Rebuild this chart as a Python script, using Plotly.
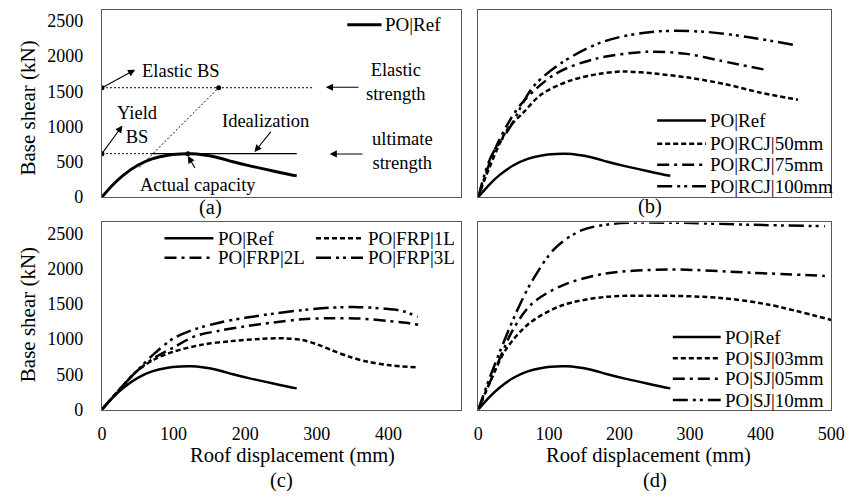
import plotly.graph_objects as go

# the page body has an 8px margin on every side, so the figure is made 16px smaller
# than the window and drawn 8px in from its edges
PAGE_W, PAGE_H, OFF = 861, 499, 8
W, H = PAGE_W - 2 * OFF, PAGE_H - 2 * OFF
FONT = "Liberation Serif, Times New Roman, serif"

# ---------------- data ----------------
ref_name = "PO|Ref"
ref_disp = [0, 15, 30, 50, 70, 90, 110, 125, 140, 160, 183, 205, 229, 250, 272]
ref_shear = [0, 170, 310, 450, 540, 590, 610, 612, 600, 565, 500, 445, 392, 345, 300]

# panel (a) idealization
elastic_bs = 1550
yield_bs = 615
elastic_line_end = 296
diag_disp = [52, 163]
diag_shear = [420, 1550]
yield_dotted_disp = [0, 70]
yield_solid_disp = [70, 272]
key_disp = [0, 163, 0, 120]
key_shear = [1550, 1550, 615, 615]

# panel (b) RC jacketing
rcj_names = ["PO|RCJ|50mm", "PO|RCJ|75mm", "PO|RCJ|100mm"]
rcj50_disp = [0, 15, 40, 65, 90, 130, 170, 205, 250, 300, 350, 400, 453]
rcj50_shear = [0, 400, 940, 1210, 1460, 1650, 1745, 1780, 1750, 1690, 1600, 1480, 1380]
rcj75_disp = [0, 25, 60, 110, 166, 240, 295, 342, 404]
rcj75_shear = [0, 710, 1310, 1750, 1960, 2060, 2030, 1935, 1810]
rcj100_disp = [0, 18, 45, 78, 119, 179, 249, 318, 388, 450]
rcj100_shear = [0, 570, 990, 1565, 1910, 2210, 2345, 2345, 2260, 2150]

# panel (c) FRP
frp_names = ["PO|FRP|1L", "PO|FRP|2L", "PO|FRP|3L"]
frp1_disp = [0, 25, 50, 75, 100, 140, 180, 220, 255, 280, 300, 320, 345, 370, 400, 438]
frp1_shear = [0, 290, 555, 720, 820, 920, 970, 1000, 1010, 985, 925, 845, 750, 680, 630, 598]
frp2_disp = [0, 25, 50, 75, 100, 130, 165, 200, 240, 280, 320, 360, 400, 425, 442]
frp2_shear = [0, 290, 555, 745, 880, 1040, 1120, 1180, 1235, 1280, 1295, 1290, 1255, 1230, 1200]
frp3_disp = [0, 25, 50, 75, 100, 130, 165, 200, 240, 280, 320, 360, 395, 420, 441]
frp3_shear = [0, 290, 560, 810, 1010, 1140, 1235, 1300, 1360, 1410, 1445, 1452, 1430, 1395, 1315]

# panel (d) steel jacketing
sj_names = ["PO|SJ|03mm", "PO|SJ|05mm", "PO|SJ|10mm"]
sj03_disp = [0, 18, 39, 72, 118, 178, 248, 340, 410, 500]
sj03_shear = [0, 420, 850, 1220, 1475, 1595, 1615, 1585, 1490, 1270]
sj05_disp = [0, 20, 49, 76, 118, 178, 271, 387, 491]
sj05_shear = [0, 470, 1130, 1500, 1755, 1925, 1985, 1940, 1895]
sj10_disp = [0, 15, 30, 53, 76, 109, 146, 192, 271, 387, 491]
sj10_shear = [0, 420, 806, 1360, 1820, 2290, 2540, 2635, 2650, 2620, 2600]

y_ticks = [0, 500, 1000, 1500, 2000, 2500]
x_ticks_c = [0, 100, 200, 300, 400]
x_ticks_d = [0, 100, 200, 300, 400, 500]

# ---------------- styles ----------------
DASH = ["solid", "5px,3px", "12px,5px,3px,5px", "15px,5px,3px,4px,3px,5px"]
LW = 2.5


def px(x):
    return (x - OFF) / W


def py(y):
    return 1 - (y - OFF) / H


fig = go.Figure()


def add_series(xs, ys, name, style, ax, width=LW):
    fig.add_trace(go.Scatter(
        x=xs, y=ys, name=name, mode="lines",
        line=dict(color="black", width=width, dash=DASH[style], shape="spline", smoothing=0.9),
        xaxis="x" + ax, yaxis="y" + ax, showlegend=False, hoverinfo="skip"))


def guide(xs, ys, dash, width=1):
    fig.add_trace(go.Scatter(x=xs, y=ys, mode="lines", line=dict(color="black", width=width, dash=dash),
                             xaxis="x", yaxis="y", showlegend=False, hoverinfo="skip"))


# panel a
guide([0, elastic_line_end], [elastic_bs, elastic_bs], "2px,2px")
guide(diag_disp, diag_shear, "2px,2px")
guide(yield_dotted_disp, [yield_bs, yield_bs], "2px,2px")
guide(yield_solid_disp, [yield_bs, yield_bs], "solid", 1.2)
add_series(ref_disp, ref_shear, ref_name, 0, "", width=3)
fig.add_trace(go.Scatter(x=key_disp, y=key_shear, mode="markers",
                         marker=dict(color="black", size=5), xaxis="x", yaxis="y",
                         showlegend=False, hoverinfo="skip"))

# panel b
add_series(ref_disp, ref_shear, ref_name, 0, "2")
add_series(rcj50_disp, rcj50_shear, rcj_names[0], 1, "2")
add_series(rcj75_disp, rcj75_shear, rcj_names[1], 2, "2")
add_series(rcj100_disp, rcj100_shear, rcj_names[2], 3, "2")

# panel c
add_series(ref_disp, ref_shear, ref_name, 0, "3")
add_series(frp1_disp, frp1_shear, frp_names[0], 1, "3")
add_series(frp2_disp, frp2_shear, frp_names[1], 2, "3")
add_series(frp3_disp, frp3_shear, frp_names[2], 3, "3")

# panel d
add_series(ref_disp, ref_shear, ref_name, 0, "4")
add_series(sj03_disp, sj03_shear, sj_names[0], 1, "4")
add_series(sj05_disp, sj05_shear, sj_names[1], 2, "4")
add_series(sj10_disp, sj10_shear, sj_names[2], 3, "4")

# ---------------- axes ----------------
xa_dom = [px(99), px(466)]
xb_dom = [px(484), px(845)]
top_dom = [py(201), py(10)]
bot_dom = [py(418), py(227)]

common = dict(showline=True, linecolor="#595959", linewidth=1, mirror=True, showgrid=False,
              zeroline=False, tickfont=dict(family=FONT, size=18, color="black"),
              ticklabeloverflow="allow")
yt = dict(ticks="outside", ticklen=14, tickcolor="rgba(0,0,0,0)")
xt = dict(ticks="outside", ticklen=8, tickcolor="rgba(0,0,0,0)")
no = dict(ticks="", showticklabels=False)

fig.update_layout(
    xaxis=dict(domain=xa_dom, range=[0, 501], anchor="y", **no, **common),
    yaxis=dict(domain=top_dom, range=[0, 2653], anchor="x", tickvals=y_ticks, **yt, **common),
    xaxis2=dict(domain=xb_dom, range=[0, 500], anchor="y2", **no, **common),
    yaxis2=dict(domain=top_dom, range=[0, 2653], anchor="x2", **no, **common),
    xaxis3=dict(domain=xa_dom, range=[0, 501], anchor="y3", tickvals=x_ticks_c, **xt, **common),
    yaxis3=dict(domain=bot_dom, range=[0, 2653], anchor="x3", tickvals=y_ticks, **yt, **common),
    xaxis4=dict(domain=xb_dom, range=[0, 500], anchor="y4", tickvals=x_ticks_d, **xt, **common),
    yaxis4=dict(domain=bot_dom, range=[0, 2653], anchor="x4", **no, **common),
)

annotations = []
shapes = []


def text(x, y, s, size=18.5, xanchor="center", angle=0):
    annotations.append(dict(x=px(x), y=py(y), xref="paper", yref="paper", text=s, showarrow=False,
                            xanchor=xanchor, yanchor="middle", textangle=angle, align="center",
                            font=dict(family=FONT, size=size, color="black")))


def arrow(tail, head):
    annotations.append(dict(x=head[0], y=head[1], ax=tail[0], ay=tail[1], xref="x", yref="y",
                            axref="x", ayref="y", text="", showarrow=True, arrowhead=2,
                            arrowsize=1.3, arrowwidth=1.1, arrowcolor="black", standoff=0))


def legend_item(x0, x1, y, tx, label, style, width=LW):
    shapes.append(dict(type="line", xref="paper", yref="paper", x0=px(x0), x1=px(x1), y0=py(y), y1=py(y),
                       line=dict(color="black", width=width, dash=DASH[style])))
    text(tx, y, label, size=19, xanchor="left")


# axis titles and captions
text(23, 110, "Base shear (kN)", size=21, angle=-90)
text(23, 321, "Base shear (kN)", size=21, angle=-90)
text(294, 465, "Roof displacement (mm)", size=20.5)
text(658, 465, "Roof displacement (mm)", size=20.5)
text(210, 212, "(a)", size=20.5)
text(660, 211, "(b)", size=20.5)
text(283, 490, "(c)", size=20.5)
text(665, 490, "(d)", size=20.5)

# panel a annotations
text(138, 72, "Elastic BS", xanchor="left")
text(135, 127, "Yield<br>BS")
text(266, 123, "Idealization")
text(197, 189, "Actual capacity")
text(400, 84, "Elastic<br>strength")
text(406, 154, "ultimate<br>strength")
arrow((0, elastic_bs), (46.4, 1806))
arrow((0, yield_bs), (28.7, 1014))
arrow((237.5, 944), (213, 639))
arrow((131, 389), (120, 583))
arrow((360.4, 1556), (312.6, 1556))
arrow((365.9, 611), (318, 611))

# legends
legend_item(350, 385, 25, 387, ref_name, 0, width=3)

rows_b = [123, 146.5, 168, 190]
for i, lab in enumerate([ref_name] + rcj_names):
    legend_item(667, 717, rows_b[i], 719, lab, i)

legend_item(163, 213, 243, 216, ref_name, 0)
legend_item(318, 366, 243, 369, frp_names[0], 1)
legend_item(163, 213, 263, 216, frp_names[1], 2)
legend_item(318, 366, 263, 369, frp_names[2], 3)

rows_d = [344, 365.7, 386.7, 408.3]
for i, lab in enumerate([ref_name] + sj_names):
    legend_item(683, 732, rows_d[i], 734, lab, i)

fig.update_layout(
    width=W, height=H, autosize=False,
    margin=dict(l=0, r=0, t=0, b=0),
    paper_bgcolor="white", plot_bgcolor="white",
    annotations=annotations, shapes=shapes, showlegend=False,
    font=dict(family=FONT, color="black"),
)

fig.write_html(
    "out.html",
    config={"displayModeBar": False},
    post_script="document.querySelectorAll('svg.main-svg').forEach(function(s){s.style.overflow='visible';});",
)
